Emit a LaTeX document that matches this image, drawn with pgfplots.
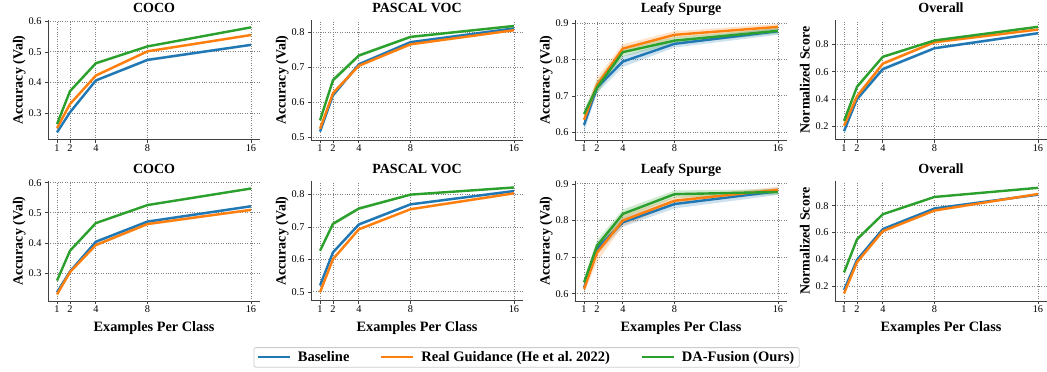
\documentclass[border=0pt]{standalone}
\usepackage{fontspec}
\setmainfont{Liberation Serif}
\usepackage{pgfplots}
\pgfplotsset{compat=1.18}
\usepackage{pgfplotstable}
\usepgfplotslibrary{fillbetween}
\definecolor{tblue}{HTML}{1F77B4}
\definecolor{torange}{HTML}{FF7F0E}
\definecolor{tgreen}{HTML}{2CA02C}

% columns: x, baseline (b, be), real guidance (o, oe), DA-Fusion (g, ge)
\pgfplotstableread{
x b be o oe g ge
1 0.238 0.004 0.252 0.004 0.265 0.003
2 0.303 0.005 0.330 0.005 0.372 0.004
4 0.407 0.005 0.423 0.005 0.463 0.004
8 0.474 0.005 0.502 0.004 0.518 0.003
16 0.523 0.004 0.555 0.004 0.580 0.003
}\TA
\pgfplotstableread{
x b be o oe g ge
1 0.517 0.005 0.525 0.005 0.549 0.005
2 0.620 0.006 0.626 0.006 0.663 0.008
4 0.708 0.005 0.704 0.005 0.733 0.005
8 0.771 0.004 0.765 0.004 0.786 0.004
16 0.810 0.004 0.805 0.004 0.817 0.003
}\TB
\pgfplotstableread{
x b be o oe g ge
1 0.620 0.020 0.634 0.012 0.650 0.012
2 0.723 0.015 0.730 0.020 0.723 0.018
4 0.795 0.015 0.831 0.012 0.821 0.012
8 0.844 0.010 0.869 0.010 0.853 0.010
16 0.879 0.010 0.891 0.008 0.880 0.008
}\TC
\pgfplotstableread{
x b be o oe g ge
1 0.165 0.015 0.205 0.015 0.240 0.010
2 0.400 0.020 0.420 0.020 0.490 0.015
4 0.620 0.015 0.660 0.015 0.710 0.010
8 0.773 0.010 0.817 0.010 0.830 0.008
16 0.883 0.010 0.910 0.008 0.930 0.006
}\TD
\pgfplotstableread{
x b be o oe g ge
1 0.236 0.004 0.229 0.004 0.275 0.003
2 0.305 0.004 0.303 0.004 0.374 0.003
4 0.404 0.005 0.393 0.005 0.466 0.003
8 0.471 0.005 0.463 0.005 0.526 0.003
16 0.522 0.004 0.510 0.004 0.581 0.003
}\TE
\pgfplotstableread{
x b be o oe g ge
1 0.520 0.004 0.499 0.004 0.627 0.004
2 0.622 0.005 0.601 0.005 0.710 0.006
4 0.708 0.005 0.693 0.004 0.757 0.005
8 0.770 0.004 0.755 0.004 0.800 0.003
16 0.811 0.004 0.804 0.004 0.822 0.003
}\TF
\pgfplotstableread{
x b be o oe g ge
1 0.617 0.015 0.613 0.012 0.631 0.010
2 0.723 0.015 0.712 0.025 0.731 0.015
4 0.795 0.012 0.800 0.015 0.818 0.012
8 0.845 0.012 0.854 0.010 0.872 0.010
16 0.880 0.010 0.884 0.008 0.878 0.008
}\TG
\pgfplotstableread{
x b be o oe g ge
1 0.172 0.012 0.147 0.012 0.303 0.008
2 0.396 0.015 0.379 0.015 0.550 0.010
4 0.626 0.012 0.611 0.012 0.737 0.008
8 0.780 0.010 0.765 0.010 0.866 0.006
16 0.883 0.008 0.888 0.008 0.934 0.005
}\TH

\newcommand{\series}[4]{%
  \addplot[name path=#2up, draw=none, forget plot] table[x=x, y expr=\thisrow{#2}+\thisrow{#3}] {#1};
  \addplot[name path=#2lo, draw=none, forget plot] table[x=x, y expr=\thisrow{#2}-\thisrow{#3}] {#1};
  \addplot[fill=#4, fill opacity=0.22, draw=none, forget plot] fill between[of=#2up and #2lo];
  \addplot[#4, line width=2.4pt] table[x=x, y=#2] {#1};
}
\newcommand{\allseries}[1]{%
  \series{#1}{b}{be}{tblue}
  \series{#1}{o}{oe}{torange}
  \series{#1}{g}{ge}{tgreen}
}

\pgfplotsset{
  every axis title shift=0pt,
  dastyle/.style={
    scale only axis, width=212pt, height=120pt,
    anchor=north west,
    xmin=0.3, xmax=16.7,
    xtick={1,2,4,8,16}, xticklabels={1,2,4,8,16},
    axis x line=bottom, axis y line=left,
    axis line style={-, black!75, line width=1pt},
    grid=major,
    grid style={dotted, black!50, line width=0.9pt},
    tick style={black!75, line width=0.8pt},
    tick align=outside, major tick length=3pt,
    ticklabel style={font=\fontsize{10.3}{10.3}\selectfont},
    xticklabel style={yshift=1.5pt},
    yticklabel style={/pgf/number format/.cd, fixed, fixed zerofill, precision=1},
    /pgf/number format/assume math mode=true,
    title style={font=\bfseries\fontsize{14}{14}\selectfont, at={(axis description cs:0.5,1.061)}, anchor=base, yshift=0pt},
    ylabel style={font=\bfseries\fontsize{14}{14}\selectfont, at={(axis description cs:-0.12,0.5)}, anchor=base},
    xlabel style={font=\bfseries\fontsize{14.3}{14.3}\selectfont, at={(axis description cs:0.5,-0.254)}, anchor=base},
  }
}

\begin{document}
\begin{tikzpicture}
% Row 1
\begin{axis}[dastyle, at={(48pt,-20pt)}, title={COCO}, ylabel={Accuracy (Val)},
  ymin=0.213, ymax=0.604, ytick={0.3,0.4,0.5,0.6}]
\allseries{\TA}
\end{axis}
\begin{axis}[dastyle, at={(311pt,-20pt)}, title={PASCAL VOC}, ylabel={Accuracy (Val)},
  ymin=0.493, ymax=0.834, ytick={0.5,0.6,0.7,0.8}]
\allseries{\TB}
\end{axis}
\begin{axis}[dastyle, at={(575pt,-20pt)}, title={Leafy Spurge}, ylabel={Accuracy (Val)},
  ymin=0.578, ymax=0.910, ytick={0.6,0.7,0.8,0.9}]
\allseries{\TC}
\end{axis}
\begin{axis}[dastyle, at={(835pt,-20pt)}, title={Overall}, ylabel={Normalized Score},
  ymin=0.10, ymax=0.98, ytick={0.2,0.4,0.6,0.8}]
\allseries{\TD}
\end{axis}
% Row 2
\begin{axis}[dastyle, at={(48pt,-181pt)}, title={COCO}, ylabel={Accuracy (Val)},
  xlabel={Examples Per Class},
  ymin=0.207, ymax=0.606, ytick={0.3,0.4,0.5,0.6}]
\allseries{\TE}
\end{axis}
\begin{axis}[dastyle, at={(311pt,-181pt)}, title={PASCAL VOC}, ylabel={Accuracy (Val)},
  xlabel={Examples Per Class},
  ymin=0.472, ymax=0.842, ytick={0.5,0.6,0.7,0.8},
  legend columns=3,
  legend image code/.code={\draw[#1, line width=2pt] (0pt,0pt) -- (32pt,0pt);},
  legend style={at={(axis description cs:1.017,-0.47)}, anchor=center,
    draw=black!20, rounded corners=2pt, line width=0.8pt,
    font=\bfseries\fontsize{14.5}{14.5}\selectfont,
    inner xsep=3pt, inner ysep=2pt,
    /tikz/every odd column/.append style={column sep=5pt},
    /tikz/every even column/.append style={column sep=29pt}}]
\allseries{\TF}
\legend{Baseline, Real Guidance (He et al.\ 2022), DA-Fusion (Ours)}
\end{axis}
\begin{axis}[dastyle, at={(575pt,-181pt)}, title={Leafy Spurge}, ylabel={Accuracy (Val)},
  xlabel={Examples Per Class},
  ymin=0.580, ymax=0.908, ytick={0.6,0.7,0.8,0.9}]
\allseries{\TG}
\end{axis}
\begin{axis}[dastyle, at={(835pt,-181pt)}, title={Overall}, ylabel={Normalized Score},
  xlabel={Examples Per Class},
  ymin=0.09, ymax=0.985, ytick={0.2,0.4,0.6,0.8}]
\allseries{\TH}
\end{axis}
\pgfresetboundingbox
\path[use as bounding box] (0,0) rectangle (1047pt,-372pt);
\end{tikzpicture}
\end{document}
